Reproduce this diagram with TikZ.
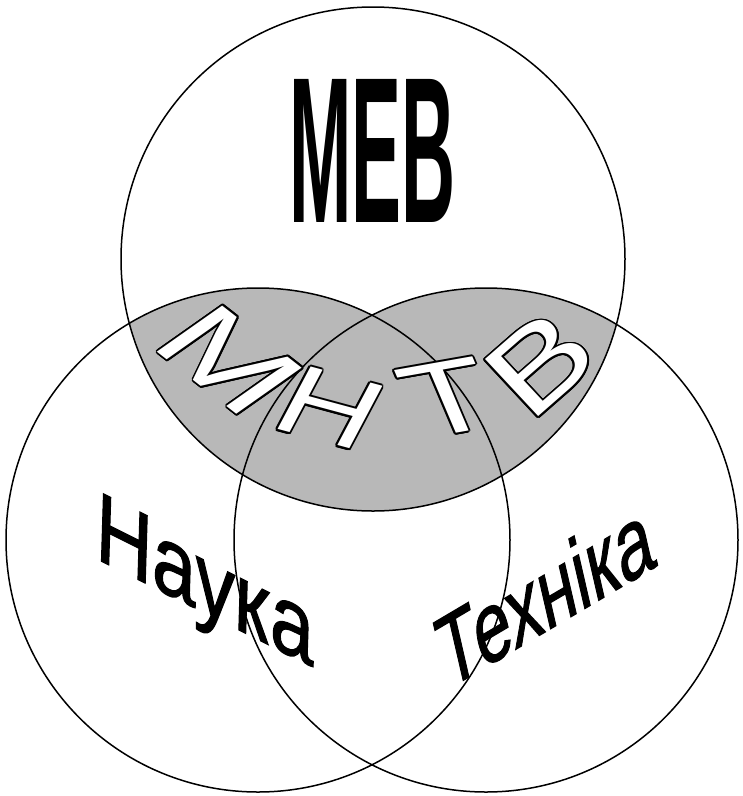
\documentclass[tikz,border=0pt]{standalone}
\usepackage{fontspec}
\setmainfont{Liberation Sans}
\newfontfamily\heavysans[FakeBold=1.3]{Liberation Sans}
\usetikzlibrary{calc}
\definecolor{lensgray}{gray}{0.72}
\tikzset{
  ring/.style={draw=black, line width=1.5pt},
  lens/.style={fill=lensgray},
  mletter/.style={inner sep=0pt, outer sep=0pt, font=\fontsize{108}{108}\selectfont},
  word/.style={inner sep=0pt, outer sep=0pt, anchor=base west, font=\heavysans\fontsize{98}{98}\selectfont},
}
\newcommand\outlinedletter[4]{%
  \foreach \k in {0,22.5,...,337.5}{\node[mletter, text=black, cm={#3}] at ($(#2)+(\k:1.8pt)$) {#4};}
  \node[mletter, text=white, cm={#3}] (#1) at (#2) {#4};}
\begin{document}
\begin{tikzpicture}[x=1pt,y=-1pt]
\useasboundingbox (0,0) rectangle (743,796);
\fill[white] (0,0) rectangle (743,796);
\coordinate (ct) at (373,259);
\coordinate (cl) at (258,540);
\coordinate (cr) at (486,540);
\begin{scope}
  \clip (ct) circle[radius=252];
  \fill[lens] (cl) circle[radius=252];
  \fill[lens] (cr) circle[radius=252];
\end{scope}
\draw[ring] (ct) circle[radius=252];
\draw[ring] (cl) circle[radius=252];
\draw[ring] (cr) circle[radius=252];
% top label
\node[inner sep=0pt, outer sep=0pt, anchor=base, font=\fontsize{208}{208}\selectfont\bfseries] (meb) at (372.5,222) {\scalebox{0.36}[1]{МЕВ}};
% arched outlined label
\outlinedletter{m1}{230,360}{1.10,-0.86,0.88,0.62,(0,0)}{М}
\outlinedletter{m2}{330,408}{1.19,-0.32,0.445,0.84,(0,0)}{Н}
\outlinedletter{m3}{448,398}{1.280,0.226,-0.391,0.921,(0,0)}{Т}
\outlinedletter{m4}{540,364}{1.03,0.90,-0.716,0.768,(0,0)}{В}
% side labels
\node[word, cm={0.8,-0.4,0.03,1,(0,0)}] (nauka) at (95,558) {Наука};
\node[word, font=\heavysans\fontsize{96}{96}\selectfont, cm={0.65,0.384,-0.23,1,(0,0)}] (tekhnika) at (447,690) {Техніка};
\end{tikzpicture}
\end{document}
